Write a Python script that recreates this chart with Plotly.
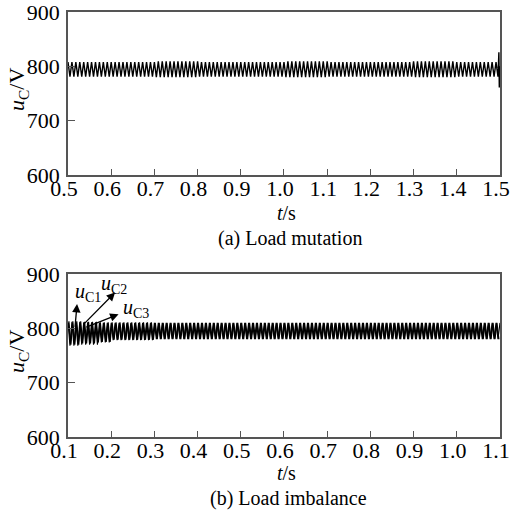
import plotly.graph_objects as go

# ---------------- data ----------------
CYCLES_PER_S = 110  # ripple cycles per second (visual count)

# (a) Load mutation: envelope of the ripple per 0.1 s segment
top_seg_edges = [0.5, 0.6, 0.7, 0.8, 0.9, 1.0, 1.1, 1.2, 1.3, 1.4, 1.497]
top_peak = [808, 808, 809, 808, 808, 809, 808, 808, 809, 808]
top_trough = [781, 781, 780, 781, 781, 780, 781, 781, 780, 781]
top_spike_t = [1.4975, 1.4985, 1.4995]
top_spike_v = [826, 761, 800]

# (b) Load imbalance: envelopes for uC1, uC2, uC3
bot_seg_edges = [0.1, 0.13, 0.17, 0.2, 0.3, 0.4, 0.5, 0.6, 0.7, 0.8, 0.9, 1.0, 1.1]
c1_peak = [812, 811, 810, 810, 810, 810, 810, 810, 810, 810, 810, 810]
c1_trough = [768, 770, 774, 778, 780, 780, 780, 780, 780, 780, 780, 780]
c2_peak = [810, 810, 809, 809, 809, 809, 809, 809, 809, 809, 809, 809]
c2_trough = [771, 773, 776, 779, 781, 781, 781, 781, 781, 781, 781, 781]
c3_peak = [813, 812, 811, 811, 810, 810, 810, 810, 810, 810, 810, 810]
c3_trough = [770, 772, 775, 779, 780, 780, 780, 780, 780, 780, 780, 780]
phase_shift = [0.0, 0.12, 0.24]  # fraction of a cycle

x_top_ticks = [0.5, 0.6, 0.7, 0.8, 0.9, 1.0, 1.1, 1.2, 1.3, 1.4, 1.5]
x_bot_ticks = [0.1, 0.2, 0.3, 0.4, 0.5, 0.6, 0.7, 0.8, 0.9, 1.0, 1.1]
y_ticks = [600, 700, 800, 900]


def zigzag(edges, peaks, troughs, phase):
    half = 1.0 / (2 * CYCLES_PER_S)
    ts, vs = [], []
    t = edges[0] + phase * 2 * half
    k = 0
    seg = 0
    while t <= edges[-1]:
        while seg < len(peaks) - 1 and t >= edges[seg + 1]:
            seg += 1
        ts.append(t)
        vs.append(peaks[seg] if k % 2 == 0 else troughs[seg])
        t += half
        k += 1
    return ts, vs


FONT = "Liberation Serif, Times New Roman, serif"
AX_COLOR = "#555555"
fig = go.Figure()

tt, tv = zigzag(top_seg_edges, top_peak, top_trough, 0.0)
tt += top_spike_t
tv += top_spike_v
fig.add_trace(go.Scatter(x=tt, y=tv, mode="lines", line=dict(color="black", width=1.4),
                         xaxis="x", yaxis="y", showlegend=False, cliponaxis=False))

for (pk, tr, ph) in [(c1_peak, c1_trough, phase_shift[0]),
                     (c2_peak, c2_trough, phase_shift[1]),
                     (c3_peak, c3_trough, phase_shift[2])]:
    bt, bv = zigzag(bot_seg_edges, pk, tr, ph)
    fig.add_trace(go.Scatter(x=bt, y=bv, mode="lines", line=dict(color="black", width=1.1),
                             xaxis="x2", yaxis="y2", showlegend=False))

W, H = 511, 515
x_dom = [68 / W, 500 / W]
top_dom = [1 - 175 / H, 1 - 12 / H]
bot_dom = [1 - 437 / H, 1 - 274 / H]

common_x = dict(showgrid=False, zeroline=False, showline=True, linecolor=AX_COLOR, linewidth=1.5,
                mirror=True, ticks="inside", ticklen=6, tickwidth=1.2, tickcolor=AX_COLOR,
                tickfont=dict(family=FONT, size=22, color="black"), tickformat=".1f",
                automargin=False, ticklabeloverflow="allow", ticklabelshift=-4,
                ticklabelstandoff=-7)
common_y = dict(showgrid=False, zeroline=False, showline=True, linecolor=AX_COLOR, linewidth=1.5,
                mirror=True, ticks="inside", ticklen=7, tickwidth=1.2, tickcolor=AX_COLOR,
                tickfont=dict(family=FONT, size=22, color="black"), range=[600, 900],
                tickvals=y_ticks, ticklabelstandoff=2, automargin=False,
                ticklabeloverflow="allow")

fig.update_layout(
    width=W, height=H, margin=dict(l=0, r=0, t=0, b=0, autoexpand=False),
    paper_bgcolor="white", plot_bgcolor="white",
    xaxis=dict(common_x, domain=x_dom, range=[0.5, 1.5001], tickvals=x_top_ticks, anchor="y"),
    yaxis=dict(common_y, domain=top_dom, anchor="x"),
    xaxis2=dict(common_x, domain=x_dom, range=[0.1, 1.1001], tickvals=x_bot_ticks, anchor="y2"),
    yaxis2=dict(common_y, domain=bot_dom, anchor="x2"),
)

ann_font = dict(family=FONT, size=20, color="black")
annots = [
    dict(text="<i>u</i><sub>C</sub>/V", x=18 / W, y=1 - 90 / H, textangle=-90, font=dict(family=FONT, size=22, color="black")),
    dict(text="<i>u</i><sub>C</sub>/V", x=18 / W, y=1 - 352 / H, textangle=-90, font=dict(family=FONT, size=22, color="black")),
    dict(text="<i>t</i>/s", x=286 / W, y=1 - 213 / H),
    dict(text="(a) Load mutation", x=290 / W, y=1 - 239 / H),
    dict(text="<i>t</i>/s", x=286 / W, y=1 - 473 / H),
    dict(text="(b) Load imbalance", x=288 / W, y=1 - 498 / H),
]
for a in annots:
    a.setdefault("font", ann_font)
    fig.add_annotation(xref="paper", yref="paper", showarrow=False,
                       xanchor="center", yanchor="middle", **a)

# curve labels with arrows in (b)
lab_font = dict(family=FONT, size=20, color="black")
labels = [
    ("<i>u</i><sub>C1</sub>", 0.146, 866),
    ("<i>u</i><sub>C2</sub>", 0.207, 880),
    ("<i>u</i><sub>C3</sub>", 0.258, 836),
]
for txt, lx, ly in labels:
    fig.add_annotation(xref="x2", yref="y2", x=lx, y=ly, text=txt, showarrow=False,
                       font=lab_font, xanchor="center", yanchor="middle")

arrows = [  # tip x, tip y, tail x, tail y
    (0.121, 845, 0.116, 800),
    (0.209, 866, 0.132, 804),
    (0.217, 826, 0.139, 801),
]
for x, y, ax, ay in arrows:
    fig.add_annotation(xref="x2", yref="y2", axref="x2", ayref="y2", x=x, y=y, ax=ax, ay=ay,
                       text="", showarrow=True, arrowhead=2, arrowsize=1.3, arrowwidth=1.3,
                       arrowcolor="black", standoff=0, startstandoff=0)

fig.write_html("out.html", post_script="document.body.style.margin='0';",
               config={"displayModeBar": False})
